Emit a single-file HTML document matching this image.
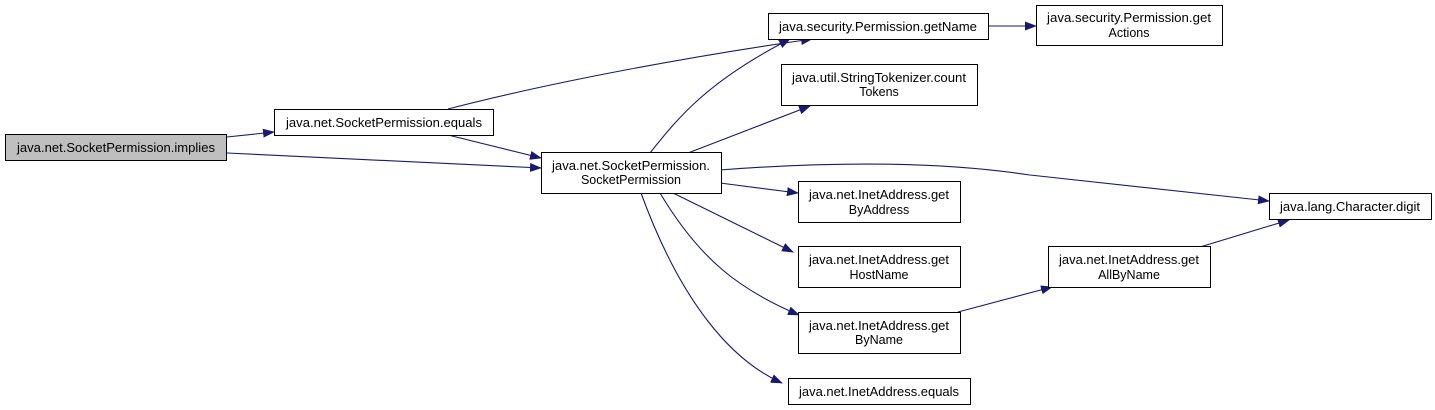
<!DOCTYPE html>
<html><head><meta charset="utf-8"><style>
html,body{margin:0;padding:0;background:#fff;}
svg{display:block;}
text{font-family:"Liberation Sans",Arial,sans-serif;font-size:12.5px;fill:#000;}
</style></head><body>
<svg width="1435" height="410" viewBox="0 0 1435 410" xmlns="http://www.w3.org/2000/svg">
<defs><marker id="a" markerWidth="12" markerHeight="9" refX="11" refY="4.5" orient="auto" markerUnits="userSpaceOnUse"><path d="M0,0 L12,4.5 L0,9 Z" fill="#191970"/></marker></defs>
<g fill="none" stroke="#191970" stroke-width="1.1" marker-end="url(#a)">
<path d="M227,137 L274,132"/>
<path d="M227,153 L541,168"/>
<path d="M448,109 C560,80 700,55 812,39"/>
<path d="M448,135 L541,158"/>
<path d="M650,153 C680,115 710,80 790,39"/>
<path d="M688,153 L810,106"/>
<path d="M720,170 C850,160 950,163 1030,175 L1269,201"/>
<path d="M720,183 L798,193"/>
<path d="M673,193 L793,252"/>
<path d="M660,193 C700,260 740,290 799,315"/>
<path d="M641,193 C680,300 730,360 782,383"/>
<path d="M988,26 L1036,26"/>
<path d="M958,312 L1052,287"/>
<path d="M1200,247 L1289,220"/>
</g>
<g stroke-width="1">
<rect x="5.5" y="134.5" width="221" height="26" fill="#bfbfbf" stroke="#000"/>
<rect x="274.5" y="109.5" width="219" height="26" fill="#fff" stroke="#000"/>
<rect x="541.5" y="152.5" width="180" height="41" fill="#fff" stroke="#000"/>
<rect x="768.5" y="13.5" width="220" height="26" fill="#fff" stroke="#000"/>
<rect x="1036.5" y="5.5" width="186" height="40" fill="#fff" stroke="#000"/>
<rect x="781.5" y="64.5" width="196" height="41" fill="#fff" stroke="#000"/>
<rect x="798.5" y="181.5" width="162" height="41" fill="#fff" stroke="#000"/>
<rect x="798.5" y="246.5" width="162" height="41" fill="#fff" stroke="#000"/>
<rect x="798.5" y="312.5" width="162" height="41" fill="#fff" stroke="#000"/>
<rect x="788.5" y="378.5" width="182" height="26" fill="#fff" stroke="#000"/>
<rect x="1048.5" y="246.5" width="162" height="41" fill="#fff" stroke="#000"/>
<rect x="1269.5" y="193.5" width="162" height="26" fill="#fff" stroke="#000"/>
</g>
<g text-anchor="middle">
<text x="116" y="152" textLength="198" lengthAdjust="spacingAndGlyphs">java.net.SocketPermission.implies</text>
<text x="384" y="127" textLength="196" lengthAdjust="spacingAndGlyphs">java.net.SocketPermission.equals</text>
<text x="631" y="170" textLength="158" lengthAdjust="spacingAndGlyphs">java.net.SocketPermission.</text>
<text x="631" y="184">SocketPermission</text>
<text x="878" y="31" textLength="198" lengthAdjust="spacingAndGlyphs">java.security.Permission.getName</text>
<text x="1129" y="22" textLength="164" lengthAdjust="spacingAndGlyphs">java.security.Permission.get</text>
<text x="1129" y="37">Actions</text>
<text x="879" y="82" textLength="174" lengthAdjust="spacingAndGlyphs">java.util.StringTokenizer.count</text>
<text x="879" y="96">Tokens</text>
<text x="879" y="199" textLength="140" lengthAdjust="spacingAndGlyphs">java.net.InetAddress.get</text>
<text x="879" y="214">ByAddress</text>
<text x="879" y="264" textLength="140" lengthAdjust="spacingAndGlyphs">java.net.InetAddress.get</text>
<text x="879" y="279">HostName</text>
<text x="879" y="330" textLength="140" lengthAdjust="spacingAndGlyphs">java.net.InetAddress.get</text>
<text x="879" y="344">ByName</text>
<text x="879" y="396" textLength="160" lengthAdjust="spacingAndGlyphs">java.net.InetAddress.equals</text>
<text x="1129" y="264" textLength="140" lengthAdjust="spacingAndGlyphs">java.net.InetAddress.get</text>
<text x="1129" y="279">AllByName</text>
<text x="1350" y="211" textLength="140" lengthAdjust="spacingAndGlyphs">java.lang.Character.digit</text>
</g>
</svg>
</body></html>
